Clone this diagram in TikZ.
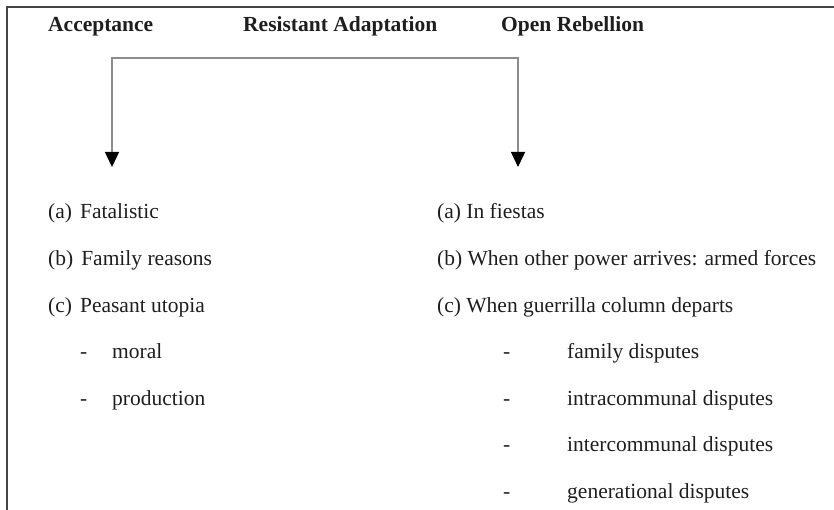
\documentclass[tikz,border=0pt]{standalone}
\usepackage{fontspec}
\setmainfont{Liberation Serif}
\usepackage{tikz}
\usetikzlibrary{arrows.meta, positioning}
\usepackage{xcolor}

\definecolor{inkgray}{HTML}{1E1E1E}
\definecolor{linegray}{HTML}{8C8C8C}
\definecolor{framegray}{HTML}{444444}

\tikzset{
	head/.style={anchor=base west, inner sep=0pt, font=\fontsize{21.5}{25}\selectfont\bfseries, text=inkgray},
	item/.style={anchor=base west, inner sep=0pt, font=\fontsize{21.5}{25}\selectfont, text=inkgray},
	flow/.style={draw=linegray, line width=1.4pt, {Triangle[color=black,length=15pt,width=14pt]}-{Triangle[color=black,length=15pt,width=14pt]}},
	frame/.style={draw=framegray, line width=1.5pt}
}

\begin{document}
\begin{tikzpicture}[x=1pt, y=-1pt]
		
		\useasboundingbox (0,0) rectangle (834,510);
		\draw[frame] (834,7) -- (7,7) -- (7,510);
		
		%headings
		\node[head] (acc) at (48,31.5) {Acceptance};
		\node[head] (res) at (243,31.5) {Resistant Adaptation};
		\node[head] (reb) at (501,31.5) {Open Rebellion};
		
		%acceptance list
		\node[item] (a1) at (48,219) {(a)\hspace{8pt}Fatalistic};
		\node[item] (a2) at (48,265.5) {(b)\hspace{8pt}Family reasons};
		\node[item] (a3) at (48,312) {(c)\hspace{8pt}Peasant utopia};
		\node[item] (d1) at (80,358.5) {-};
		\node[item] (a4) at (112,358.5) {moral};
		\node[item] (d2) at (80,405) {-};
		\node[item] (a5) at (112,405) {production};
		
		%rebellion list
		\node[item] (r1) at (437,219) {(a) In fiestas};
		\node[item] (r2) at (437,265.5) {(b) When other power arrives: armed forces};
		\node[item] (r3) at (437,312) {(c) When guerrilla column departs};
		\node[item] (e1) at (503,358.5) {-};
		\node[item] (r4) at (567,358.5) {family disputes};
		\node[item] (e2) at (503,405) {-};
		\node[item] (r5) at (567,405) {intracommunal disputes};
		\node[item] (e3) at (503,451.5) {-};
		\node[item] (r6) at (567,451.5) {intercommunal disputes};
		\node[item] (e4) at (503,498) {-};
		\node[item] (r7) at (567,498) {generational disputes};
		
		%split arrow
		\coordinate (barL) at (112,58);
		\coordinate (barR) at (518,58);
		\coordinate (tipL) at (112,167);
		\coordinate (tipR) at (518,167);
		\draw[flow] (tipL) -- (barL) -- (barR) -- (tipR);
		
\end{tikzpicture}
\end{document}
